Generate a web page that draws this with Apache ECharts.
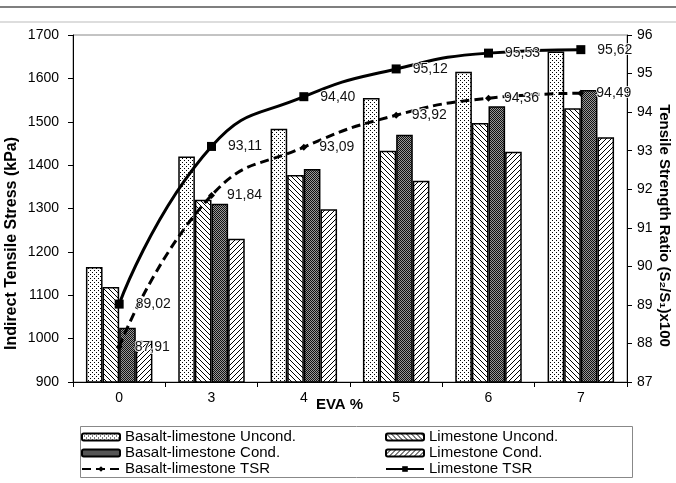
<!DOCTYPE html>
<html><head><meta charset="utf-8">
<script src="https://cdn.jsdelivr.net/npm/echarts@6/dist/echarts.min.js"></script>
<style>html,body{margin:0;padding:0;background:#fff}#c{width:676px;height:483px}</style>
</head><body><div id="c"></div>
<script>
const categories = ['0', '3', '4', '5', '6', '7'];
const basaltUncond = [1165, 1420, 1484, 1555, 1615, 1662];
const limeUncond = [1119, 1320, 1377, 1433, 1497, 1531];
const basaltCond = [1025, 1311, 1391, 1470, 1536, 1573];
const limeCond = [995, 1230, 1298, 1364, 1431, 1464];
const basaltTSR = [87.91, 91.84, 93.09, 93.92, 94.36, 94.49];
const limeTSR = [89.02, 93.11, 94.40, 95.12, 95.53, 95.62];
const seriesNames = ['Basalt-limestone Uncond.', 'Limestone Uncond.', 'Basalt-limestone Cond.', 'Limestone Cond.', 'Basalt-limestone TSR', 'Limestone TSR'];

function makePattern(kind) {
  const c = document.createElement('canvas');
  const s = kind === 'checker' ? 2 : (kind === 'dots' ? 4 : 5);
  c.width = s; c.height = s;
  const g = c.getContext('2d');
  g.fillStyle = '#fff'; g.fillRect(0, 0, s, s);
  g.fillStyle = '#000'; g.strokeStyle = '#000';
  if (kind === 'dots') {
    g.fillRect(0, 0, 1, 1); g.fillRect(2, 2, 1, 1);
  } else if (kind === 'checker') {
    g.fillStyle = '#111'; g.fillRect(0, 0, 1, 1); g.fillRect(1, 1, 1, 1);
    g.fillStyle = '#999'; g.fillRect(1, 0, 1, 1); g.fillRect(0, 1, 1, 1);
  } else {
    g.lineWidth = 1;
    for (let o = -s; o <= s; o += s) {
      g.beginPath();
      if (kind === 'back') { g.moveTo(o, 0); g.lineTo(o + s, s); }
      else { g.moveTo(o, s); g.lineTo(o + s, 0); }
      g.stroke();
    }
  }
  return { image: c, repeat: 'repeat' };
}

const font = 'Liberation Sans, Arial, sans-serif';
const fmt = p => p.value.toFixed(2).replace('.', ',');
const barStyle = (kind) => ({ color: makePattern(kind), borderColor: '#000', borderWidth: 1.5 });
const legendText = { fontSize: 15, color: '#000', fontFamily: font, lineHeight: 15 };
const dataLabel = { show: true, position: 'right', distance: 12, formatter: fmt, fontSize: 14, color: '#111', fontFamily: font, textBorderColor: 'rgba(255,255,255,0.85)', textBorderWidth: 2 };

const chart = echarts.init(document.getElementById('c'), null, { renderer: 'canvas' });
chart.setOption({
  backgroundColor: '#fff',
  animation: false,
  textStyle: { fontFamily: font },
  grid: { left: 73, right: 49, top: 35, bottom: 101, show: true, borderColor: '#888', borderWidth: 1, outerBoundsMode: 'none', containLabel: false },
  xAxis: {
    type: 'category', data: categories,
    name: 'EVA %', nameLocation: 'middle', nameGap: 15, nameMoveOverlap: false,
    nameTextStyle: { fontWeight: 'bold', fontSize: 15, color: '#000', fontFamily: font, padding: [0, 21, 0, 0] },
    axisLine: { lineStyle: { color: '#000', width: 1 } },
    axisTick: { show: true, length: 5, lineStyle: { color: '#000' } },
    axisLabel: { fontSize: 14, color: '#000', margin: 9, fontFamily: font }
  },
  yAxis: [{
    type: 'value', min: 900, max: 1700, interval: 100, position: 'left',
    name: 'Indirect Tensile Stress (kPa)', nameLocation: 'middle', nameGap: 53, nameMoveOverlap: false,
    nameTextStyle: { fontWeight: 'bold', fontSize: 16, color: '#000', fontFamily: font, padding: [0, 70, 0, 0] },
    axisLine: { show: true, lineStyle: { color: '#000', width: 1 } },
    axisTick: { show: true, length: 5, lineStyle: { color: '#000' } },
    axisLabel: { fontSize: 14, color: '#000', margin: 14, fontFamily: font, formatter: v => String(v) },
    splitLine: { show: false }
  }, {
    type: 'value', min: 87, max: 96, interval: 1, position: 'right',
    name: 'Tensile Strength Ratio (S\u2082/S\u2081)x100', nameLocation: 'middle', nameGap: 30, nameRotate: -90, nameMoveOverlap: false,
    nameTextStyle: { fontWeight: 'bold', fontSize: 15, color: '#000', fontFamily: font, padding: [0, 0, 0, 34] },
    axisLine: { show: true, lineStyle: { color: '#000', width: 1 } },
    axisTick: { show: true, length: 5, lineStyle: { color: '#000' } },
    axisLabel: { fontSize: 14, color: '#000', margin: 10, fontFamily: font },
    splitLine: { show: false }
  }],
  legend: [{
    left: 81, top: 429.5, height: 60, padding: 0, orient: 'vertical', itemWidth: 38, itemHeight: 7, itemGap: 1,
    textStyle: legendText,
    data: [seriesNames[0], seriesNames[2], seriesNames[4]]
  }, {
    left: 385, top: 429.5, height: 60, padding: 0, orient: 'vertical', itemWidth: 38, itemHeight: 7, itemGap: 1,
    textStyle: legendText,
    data: [seriesNames[1], seriesNames[3], seriesNames[5]]
  }],
  graphic: [
    { type: 'line', shape: { x1: 0, y1: 7, x2: 676, y2: 7 }, style: { stroke: '#555', lineWidth: 1.5 } },
    { type: 'line', shape: { x1: 0, y1: 22, x2: 676, y2: 22 }, style: { stroke: '#bbb', lineWidth: 1 } },
    { type: 'rect', shape: { x: 80.5, y: 426.5, width: 552, height: 51 }, style: { fill: 'none', stroke: '#888', lineWidth: 1 } }
  ],
  series: [
    { name: seriesNames[0], type: 'bar', data: basaltUncond, barGap: '0%', barCategoryGap: '28%', itemStyle: barStyle('dots') },
    { name: seriesNames[1], type: 'bar', data: limeUncond, barGap: '0%', barCategoryGap: '28%', itemStyle: barStyle('back') },
    { name: seriesNames[2], type: 'bar', data: basaltCond, barGap: '0%', barCategoryGap: '28%', itemStyle: barStyle('checker') },
    { name: seriesNames[3], type: 'bar', data: limeCond, barGap: '0%', barCategoryGap: '28%', itemStyle: barStyle('fwd') },
    {
      name: seriesNames[4], type: 'line', yAxisIndex: 1, data: basaltTSR, smooth: 0.5, z: 5, zlevel: 1,
      symbol: 'diamond', symbolSize: 7,
      lineStyle: { color: '#000', width: 3, type: [9, 5] },
      itemStyle: { color: '#000' },
      label: dataLabel
    },
    {
      name: seriesNames[5], type: 'line', yAxisIndex: 1, data: limeTSR, smooth: 0.5, z: 6, zlevel: 1,
      symbol: 'rect', symbolSize: 9,
      lineStyle: { color: '#000', width: 3 },
      itemStyle: { color: '#000' },
      label: dataLabel
    }
  ]
});
</script></body></html>
